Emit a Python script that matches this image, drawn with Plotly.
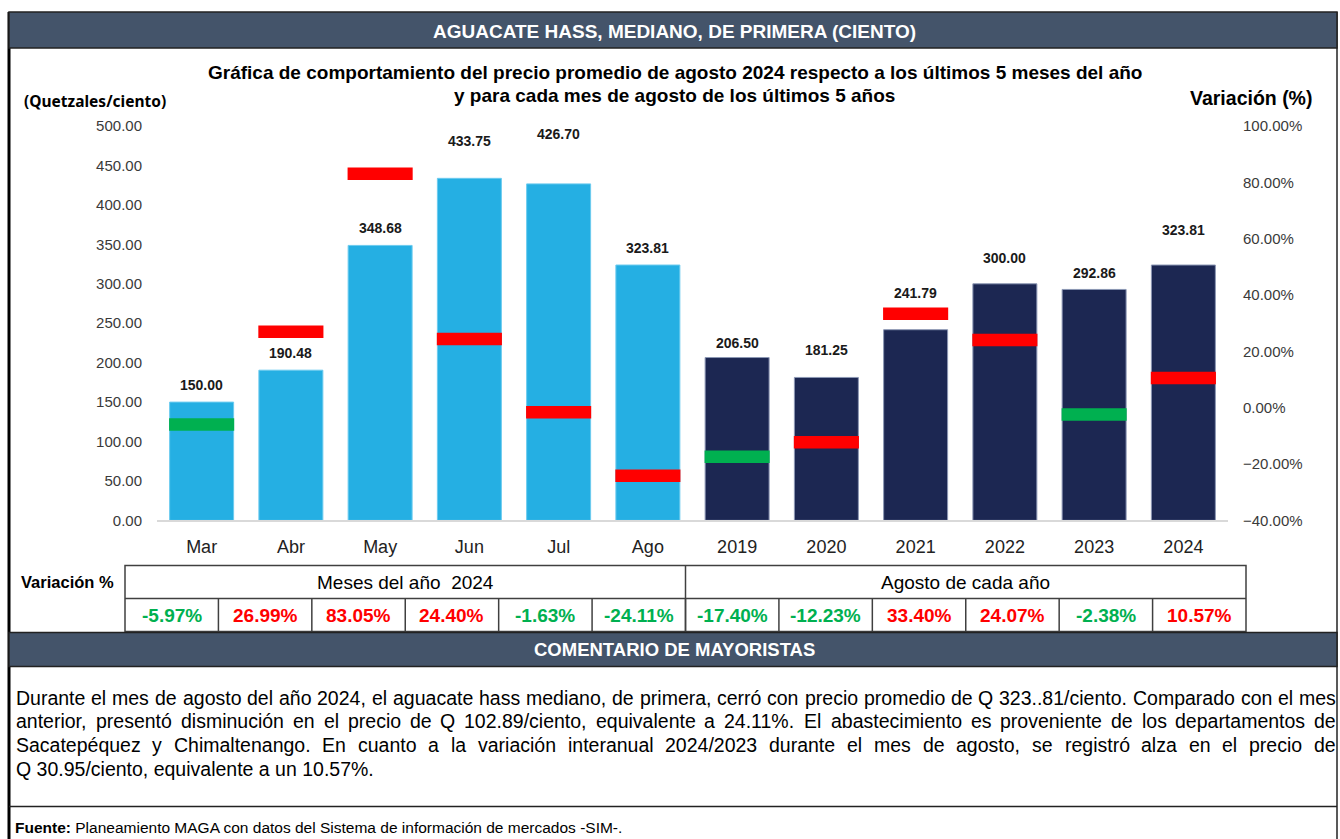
import plotly.graph_objects as go

# ---------------- data ----------------
CATEGORIES = ["Mar", "Abr", "May", "Jun", "Jul", "Ago", "2019", "2020", "2021", "2022", "2023", "2024"]
PRICES = [150.00, 190.48, 348.68, 433.75, 426.70, 323.81, 206.50, 181.25, 241.79, 300.00, 292.86, 323.81]
VARIATION = [-5.97, 26.99, 83.05, 24.40, -1.63, -24.11, -17.40, -12.23, 33.40, 24.07, -2.38, 10.57]
GROUP_LABELS = ["Meses del año  2024", "Agosto de cada año"]
LEFT_TICKS = [0, 50, 100, 150, 200, 250, 300, 350, 400, 450, 500]
RIGHT_TICKS = [-40, -20, 0, 20, 40, 60, 80, 100]

HEADER = "AGUACATE HASS, MEDIANO, DE PRIMERA (CIENTO)"
TITLE_L1 = "Gráfica de comportamiento del precio promedio de agosto 2024 respecto a los últimos 5 meses del año"
TITLE_L2 = "y para cada mes de agosto de los últimos 5 años"
COMMENT_HEADER = "COMENTARIO DE MAYORISTAS"
PARAGRAPH = [
    "Durante el mes de agosto del año 2024, el aguacate hass mediano, de primera, cerró con precio promedio de Q 323..81/ciento. Comparado con el mes",
    "anterior, presentó disminución en el precio de Q 102.89/ciento, equivalente a 24.11%. El abastecimiento es proveniente de los departamentos de",
    "Sacatepéquez y Chimaltenango. En cuanto a la variación interanual 2024/2023 durante el mes de agosto, se registró  alza en el precio de",
    "Q 30.95/ciento, equivalente a un 10.57%.",
]
FOOTER = "<b>Fuente:</b> Planeamiento MAGA con datos del Sistema de información de mercados -SIM-."

# ---------------- styles ----------------
W, H = 1340, 839
FONT = "Liberation Sans, Arial, sans-serif"
HEAD_BG = "#44546A"
LIGHT = "#25AFE3"
DARK = "#1C2752"
RED = "#FF0000"
GREEN = "#00B050"
BAR_COLORS = [LIGHT] * 6 + [DARK] * 6
BAR_EDGES = ["#6CCBEF"] * 6 + ["#8C97B4"] * 6
MARKER_COLORS = [GREEN, RED, RED, RED, RED, RED, GREEN, RED, RED, RED, GREEN, RED]
LABEL_SHIFT = [17, 17, 17, 37, 50, 17, 15, 27, 37, 26, 16, 35]

# vertical calibration of the photographed page
VS, VO = 0.979, 9.0


def px(x):
    return x / W


def py(y):
    return 1 - ((y - VO) / VS) / H


PLOT_L, PLOT_R, PLOT_T, PLOT_B = 157, 1228, 126, 520

fig = go.Figure()
idx = list(range(len(CATEGORIES)))

fig.add_trace(go.Bar(
    x=CATEGORIES, y=PRICES,
    marker=dict(color=BAR_COLORS, line=dict(color=BAR_EDGES, width=1)),
    hoverinfo="skip", showlegend=False,
))
fig.add_trace(go.Scatter(
    x=CATEGORIES, y=[v / 100 for v in VARIATION], yaxis="y2", mode="markers",
    marker=dict(symbol="line-ew", size=46.5, color=MARKER_COLORS,
                line=dict(width=12.5, color=MARKER_COLORS)),
    hoverinfo="skip", showlegend=False,
))

tickfont = dict(family=FONT, size=15, color="#3a3a3a")
fig.update_layout(
    width=W, height=H,
    margin=dict(l=0, r=0, t=0, b=0),
    paper_bgcolor="white", plot_bgcolor="white",
    bargap=0.283,
    xaxis=dict(type="category", domain=[px(PLOT_L), px(PLOT_R)], range=[-0.5, 11.5],
               showline=True, linecolor="#D9D9D9", linewidth=2, ticks="",
               showgrid=False, zeroline=False,
               tickfont=dict(family=FONT, size=18, color="#222222"),
               ticklabelstandoff=9),
    yaxis=dict(domain=[py(PLOT_B), py(PLOT_T)], range=[0, 500],
               tickvals=LEFT_TICKS, tickformat=".2f",
               showgrid=False, zeroline=False, showline=False, ticks="",
               tickfont=tickfont, ticklabelstandoff=14),
    yaxis2=dict(overlaying="y", side="right", range=[-0.4, 1.0],
                tickvals=[v / 100 for v in RIGHT_TICKS], tickformat=".2%",
                showgrid=False, zeroline=False, showline=False, ticks="",
                tickfont=tickfont, ticklabelstandoff=14),
)

shapes = []
ann = []

# outer frame
shapes.append(dict(type="line", xref="paper", yref="paper", x0=px(9), x1=px(9), y0=py(12), y1=py(860),
                   line=dict(color="black", width=3)))
shapes.append(dict(type="line", xref="paper", yref="paper", x0=px(1337), x1=px(1337), y0=py(12), y1=py(860),
                   line=dict(color="#222", width=1.5)))
# header bar
shapes.append(dict(type="rect", xref="paper", yref="paper", x0=px(9), x1=px(1337), y0=py(48), y1=py(12),
                   fillcolor=HEAD_BG, line=dict(color="#222", width=1.5)))
ann.append(dict(x=px(675), y=py(31), text=f"<b>{HEADER}</b>", font=dict(family=FONT, size=19, color="white")))

# titles
ann.append(dict(x=px(675), y=py(72), text=f"<b>{TITLE_L1}</b>", font=dict(family=FONT, size=19, color="black")))
ann.append(dict(x=px(675), y=py(95), text=f"<b>{TITLE_L2}</b>", font=dict(family=FONT, size=19, color="black")))
ann.append(dict(x=px(22), y=py(101), xanchor="left", text="<b>(Quetzales/ciento)</b>",
                font=dict(family="Noto Sans, sans-serif", size=15.5, color="black")))
ann.append(dict(x=px(1251), y=py(98), text="<b>Variación (%)</b>",
                font=dict(family=FONT, size=19.5, color="black")))

# bar labels
for i, v, s in zip(idx, PRICES, LABEL_SHIFT):
    ann.append(dict(x=i, y=v, xref="x", yref="y", yshift=s,
                    text=f"<b>{v:.2f}</b>", font=dict(family=FONT, size=14, color="#1a1a1a")))

# table
TL, TR, T0, T1, T2 = 125, 1246, 565, 598, 631
col_w = (TR - TL) / len(CATEGORIES)
lc = dict(color="#404040", width=1.5)
shapes.append(dict(type="rect", xref="paper", yref="paper", x0=px(TL), x1=px(TR), y0=py(T2), y1=py(T0), line=lc))
shapes.append(dict(type="line", xref="paper", yref="paper", x0=px(TL), x1=px(TR), y0=py(T1), y1=py(T1), line=lc))
mid = TL + col_w * 6
shapes.append(dict(type="line", xref="paper", yref="paper", x0=px(mid), x1=px(mid), y0=py(T2), y1=py(T0), line=lc))
for i in range(1, len(CATEGORIES)):
    xx = TL + col_w * i
    shapes.append(dict(type="line", xref="paper", yref="paper", x0=px(xx), x1=px(xx), y0=py(T2), y1=py(T1), line=lc))
ann.append(dict(x=px(67), y=py(582), text="<b>Variación %</b>", font=dict(family=FONT, size=16.5, color="black")))
ann.append(dict(x=px(TL + col_w * 3), y=py(582), text=GROUP_LABELS[0], font=dict(family=FONT, size=19, color="black")))
ann.append(dict(x=px(TL + col_w * 9), y=py(582), text=GROUP_LABELS[1], font=dict(family=FONT, size=19, color="black")))
for i, v in enumerate(VARIATION):
    ann.append(dict(x=px(TL + col_w * (i + 0.5)), y=py(615), text=f"<b>{v:.2f}%</b>",
                    font=dict(family=FONT, size=19, color=GREEN if v < 0 else RED)))

# comment header
shapes.append(dict(type="rect", xref="paper", yref="paper", x0=px(9), x1=px(1337), y0=py(666), y1=py(632),
                   fillcolor=HEAD_BG, line=dict(color="#222", width=1.5)))
ann.append(dict(x=px(675), y=py(649), text=f"<b>{COMMENT_HEADER}</b>", font=dict(family=FONT, size=18.5, color="white")))

# justified paragraph using Arial (Liberation Sans) metrics
AW = {' ': 278, 'a': 556, 'b': 556, 'c': 500, 'd': 556, 'e': 556, 'f': 278, 'g': 556, 'h': 556, 'i': 222,
      'j': 222, 'k': 500, 'l': 222, 'm': 833, 'n': 556, 'o': 556, 'p': 556, 'q': 556, 'r': 333, 's': 500,
      't': 278, 'u': 556, 'v': 500, 'w': 722, 'x': 500, 'y': 500, 'z': 500,
      'A': 667, 'B': 667, 'C': 722, 'D': 722, 'E': 667, 'F': 611, 'G': 778, 'H': 722, 'I': 278, 'J': 500,
      'K': 667, 'L': 556, 'M': 833, 'N': 722, 'O': 778, 'P': 667, 'Q': 778, 'R': 722, 'S': 667, 'T': 611,
      'U': 722, 'V': 667, 'W': 944, 'X': 667, 'Y': 667, 'Z': 611,
      '.': 278, ',': 278, '/': 278, '%': 889, '-': 333, ':': 278, 'á': 556, 'é': 556, 'ó': 556, 'ú': 556,
      'í': 278, 'ñ': 556}


def units(s):
    return sum(AW.get(ch, 556) for ch in s)


TX0, TX1 = 14, 1334
fs = min(19.5, (TX1 - TX0) * 1000 / units(PARAGRAPH[0]))
LINE_Y = [697, 720, 744, 768]
for li, line in enumerate(PARAGRAPH):
    words = line.split()
    if li == len(PARAGRAPH) - 1:
        ann.append(dict(x=px(TX0), y=py(LINE_Y[li]), xanchor="left", text=line,
                        font=dict(family=FONT, size=fs, color="black")))
        continue
    ww = [units(w) * fs / 1000 for w in words]
    gap = (TX1 - TX0 - sum(ww)) / (len(words) - 1)
    x = TX0
    for w, wpx in zip(words, ww):
        ann.append(dict(x=px(x), y=py(LINE_Y[li]), xanchor="left", text=w,
                        font=dict(family=FONT, size=fs, color="black")))
        x += wpx + gap

# footer
shapes.append(dict(type="line", xref="paper", yref="paper", x0=px(9), x1=px(1337), y0=py(806), y1=py(806),
                   line=dict(color="#222", width=1.5)))
ann.append(dict(x=px(13), y=py(827), xanchor="left", text=FOOTER, font=dict(family=FONT, size=15.5, color="black")))

for a in ann:
    a.setdefault("xref", "paper")
    a.setdefault("yref", "paper")
    a.setdefault("xanchor", "center")
    a.setdefault("yanchor", "middle")
    a.setdefault("showarrow", False)

fig.update_layout(shapes=shapes, annotations=ann)
fig.write_html(
    "out.html",
    config={"displayModeBar": False},
    post_script="document.body.style.margin='0';document.body.style.overflow='hidden';"
                "document.documentElement.style.overflow='hidden';",
)
